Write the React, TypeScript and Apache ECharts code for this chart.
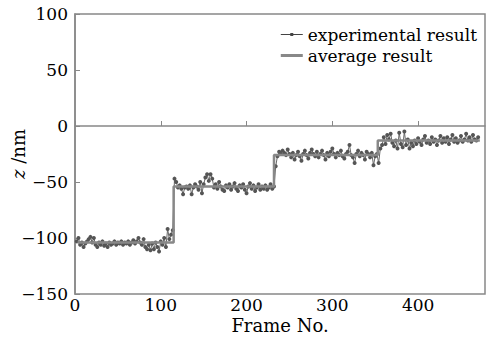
import React, { useEffect, useRef } from "react";
import * as echarts from "echarts";

const seg1Start = 2;
const seg1Values = [-103, -100, -106, -104, -108, -105, -103, -101, -99, -104, -100, -106, -108, -104, -106, -103, -107, -105, -108, -104, -106, -105, -103, -106, -104, -105, -103, -106, -104, -105, -103, -106, -104, -102, -105, -103, -100, -104, -106, -101, -108, -110, -106, -111, -105, -110, -104, -108, -112, -103, -106, -100, -108, -92, -101, -97, -93];
const seg2Start = 116;
const seg2Values = [-47, -50, -55, -53, -56, -61, -55, -54, -56, -53, -61, -55, -52, -54, -57, -50, -60, -52, -46, -43, -49, -43, -47, -55, -52, -56, -50, -54, -57, -58, -53, -55, -52, -57, -54, -51, -56, -58, -53, -55, -52, -57, -60, -54, -51, -56, -53, -58, -55, -52, -57, -54, -56, -53, -57, -55, -52, -56, -54];
const seg3Start = 234;
const seg3Values = [-36, -27, -23, -25, -22, -24, -26, -21, -25, -28, -24, -30, -26, -23, -27, -31, -25, -22, -26, -29, -24, -21, -25, -27, -23, -28, -25, -22, -26, -30, -24, -27, -23, -20, -25, -28, -24, -26, -22, -27, -29, -25, -23, -17, -26, -28, -33, -25, -22, -27, -24, -26, -30, -23, -25, -28, -24, -35, -27, -25, -33];
const seg4Start = 356;
const seg4Values = [-20, -17, -10, -16, -8, -12, -7, -15, -18, -13, -20, -6, -16, -19, -5, -17, -12, -20, -15, -18, -13, -16, -11, -14, -17, -12, -9, -15, -13, -16, -10, -14, -12, -17, -13, -9, -15, -11, -14, -10, -16, -12, -8, -14, -11, -15, -13, -9, -14, -12, -7, -13, -10, -14, -8, -12, -13, -10];
const frameStep = 2;

const stepFrames = [3, 115, 115, 232, 232, 353, 353, 472];
const stepValues = [-104, -104, -54, -54, -26, -26, -13, -13];

const xTicks = { min: 0, max: 478, interval: 100 };
const yTicks = { min: -150, max: 100, interval: 50 };

function segPoints(start: number, vals: number[]) {
  return vals.map((v, i) => [start + i * frameStep, v]);
}

export default function App() {
  const ref = useRef<HTMLDivElement>(null);
  useEffect(() => {
    if (!ref.current) return;
    const chart = echarts.init(ref.current, null, { renderer: "svg" });
    const exp = [
      ...segPoints(seg1Start, seg1Values),
      ...segPoints(seg2Start, seg2Values),
      ...segPoints(seg3Start, seg3Values),
      ...segPoints(seg4Start, seg4Values),
    ];
    const avg = stepFrames.map((f, i) => [f, stepValues[i]]);
    const font = "DejaVu Serif";
    chart.setOption({
      animation: false,
      backgroundColor: "#fff",
      grid: {
        left: 75,
        right: 11,
        top: 14,
        bottom: 51,
        containLabel: false,
        outerBoundsMode: "none",
        show: true,
        borderColor: "#888",
        borderWidth: 1.5,
      },
      legend: {
        orient: "vertical",
        right: 14,
        top: 21,
        itemWidth: 22,
        itemHeight: 8,
        itemGap: 4,
        textStyle: { fontFamily: font, fontSize: 17, color: "#000" },
        data: [
          {
            name: "experimental result",
            icon: "path://M0,3.6 L9.5,3.6 L9.5,4.4 L0,4.4 Z M12.5,3.6 L22,3.6 L22,4.4 L12.5,4.4 Z M9.5,2.5 L12.5,2.5 L12.5,5.5 L9.5,5.5 Z M0,0 L0.01,0 Z M0,8 L0.01,8 Z",
            itemStyle: { color: "#444" },
          },
          {
            name: "average result",
            icon: "path://M0,2.6 L22,2.6 L22,5.4 L0,5.4 Z M0,0 L0.01,0 Z M0,8 L0.01,8 Z",
            itemStyle: { color: "#888" },
          },
        ],
      },
      xAxis: {
        type: "value",
        min: xTicks.min,
        max: xTicks.max,
        interval: xTicks.interval,
        name: "Frame No.",
        nameLocation: "middle",
        nameGap: 22,
        nameMoveOverlap: false,
        nameTextStyle: { fontFamily: font, fontSize: 18, color: "#000" },
        axisLine: { show: true, lineStyle: { color: "#888", width: 1.5 } },
        axisTick: { show: true, inside: true, length: 5, lineStyle: { color: "#888" } },
        axisLabel: { fontFamily: font, fontSize: 17, color: "#000", margin: 2, showMaxLabel: false },
        splitLine: { show: false },
      },
      yAxis: {
        type: "value",
        min: yTicks.min,
        max: yTicks.max,
        interval: yTicks.interval,
        name: "{i|z} /nm",
        nameLocation: "middle",
        nameGap: 48,
        nameMoveOverlap: false,
        nameTextStyle: {
          fontFamily: font,
          fontSize: 18,
          color: "#000",
          rich: { i: { fontFamily: font, fontSize: 18, fontStyle: "italic", color: "#000" } },
        },
        axisLine: { show: true, lineStyle: { color: "#888", width: 1.5 } },
        axisTick: { show: true, inside: true, length: 5, lineStyle: { color: "#888" } },
        axisLabel: {
          fontFamily: font,
          fontSize: 17,
          color: "#000",
          margin: 7,
          formatter: (v: number) => String(v).replace("-", "\u2212"),
        },
        splitLine: { show: false },
      },
      series: [
        {
          name: "experimental result",
          type: "line",
          data: exp,
          symbol: "circle",
          symbolSize: 4,
          showSymbol: true,
          lineStyle: { color: "#666", width: 1 },
          itemStyle: { color: "#555" },
          z: 2,
        },
        {
          name: "average result",
          type: "line",
          data: avg,
          symbol: "none",
          lineStyle: { color: "#888", width: 2.5 },
          itemStyle: { color: "#888" },
          z: 3,
        },
      ],
    });
    return () => chart.dispose();
  }, []);
  return <div ref={ref} style={{ width: 496, height: 345, position: "absolute", left: 0, top: 0 }} />;
}
